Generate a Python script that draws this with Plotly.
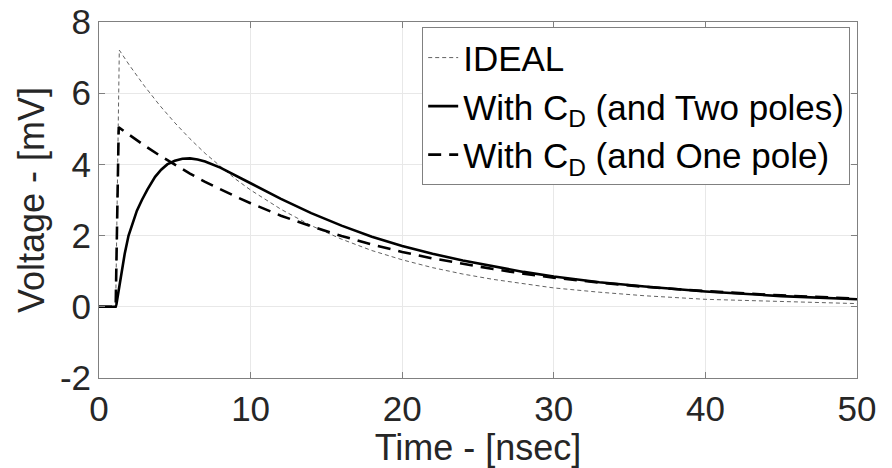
import plotly.graph_objects as go

# ---- data ----
t_ideal = [0, 1.0, 1.1, 1.34, 2, 3, 4, 5, 6, 7, 8, 9, 10, 12, 14, 16, 18, 20, 22, 24,
           26, 28, 30, 33, 36, 40, 45, 50]
v_ideal = [0, 0, 0, 7.21, 6.79, 6.20, 5.66, 5.17, 4.72, 4.31, 3.94, 3.59, 3.28, 2.74,
           2.28, 1.90, 1.58, 1.32, 1.10, 0.92, 0.77, 0.64, 0.53, 0.41, 0.31, 0.21, 0.14, 0.09]

t_two = [0, 1.0, 1.1, 1.15, 1.2, 1.3, 1.47, 1.7, 1.95, 2.2, 2.5, 2.83, 3.2, 3.7, 4.1,
         4.5, 5, 5.5, 6, 6.5, 7, 8, 9, 10, 12, 14, 16, 18, 20, 22, 24, 26, 28, 30,
         33, 36, 40, 45, 50]
v_two = [0, 0, 0, 0.07, 0.2, 0.5, 1.0, 1.5, 2.0, 2.35, 2.7, 3.0, 3.3, 3.65, 3.85,
         4.0, 4.1, 4.16, 4.17, 4.14, 4.08, 3.91, 3.70, 3.47, 3.03, 2.63,
         2.28, 1.97, 1.71, 1.49, 1.30, 1.13, 0.98, 0.85, 0.69, 0.57, 0.43, 0.30, 0.21]

t_one = [0, 1.0, 1.1, 1.3, 2, 3, 4, 5, 6, 7, 8, 9, 10, 12, 14, 16, 18, 20, 22, 24, 26,
         28, 30, 33, 36, 40, 45, 50]
v_one = [0, 0, 0, 5.04, 4.82, 4.53, 4.25, 3.99, 3.74, 3.51, 3.30, 3.10, 2.91, 2.56, 2.26,
         1.99, 1.75, 1.54, 1.36, 1.20, 1.06, 0.93, 0.82, 0.68, 0.56, 0.44, 0.32, 0.23]

x_ticks = [0, 10, 20, 30, 40, 50]
y_ticks = [-2, 0, 2, 4, 6, 8]

FONT = "Liberation Sans, Arial, sans-serif"

fig = go.Figure()
fig.add_trace(go.Scatter(x=t_ideal, y=v_ideal, mode="lines", name="IDEAL",
                         line=dict(color="#3a3a3a", width=0.8, dash="4px,3px")))
fig.add_trace(go.Scatter(x=t_two, y=v_two, mode="lines",
                         name="With C<sub>D</sub> (and Two poles)",
                         line=dict(color="black", width=2.6)))
fig.add_trace(go.Scatter(x=t_one, y=v_one, mode="lines",
                         name="With C<sub>D</sub> (and One pole)",
                         line=dict(color="black", width=2.6, dash="13px,8px")))

axis_common = dict(
    showline=True, linecolor="#808080", linewidth=1, mirror="ticks",
    ticks="inside", ticklen=6, tickcolor="#808080",
    showgrid=True, gridcolor="#e8e8e8", gridwidth=1,
    zeroline=False, automargin=False,
    tickfont=dict(family=FONT, size=35, color="#262626"),
)

fig.update_xaxes(range=[0, 50], tickvals=x_ticks, ticktext=[str(v) for v in x_ticks],
                 title=dict(text="Time - [nsec]", font=dict(family=FONT, size=36, color="#262626"),
                            standoff=2),
                 **axis_common)
fig.update_yaxes(range=[-2, 8], tickvals=y_ticks, ticktext=[str(v) for v in y_ticks],
                 title=dict(text="Voltage - [mV]", font=dict(family=FONT, size=36, color="#262626"),
                            standoff=4),
                 **axis_common)

fig.update_layout(
    width=892, height=468,
    margin=dict(l=99, r=35, t=22, b=90, autoexpand=False),
    paper_bgcolor="white", plot_bgcolor="white",
    showlegend=True,
    legend=dict(x=0.991, y=0.985, xanchor="right", yanchor="top",
                bgcolor="white", bordercolor="#808080", borderwidth=1,
                font=dict(family=FONT, size=35, color="black"),
                itemwidth=30, tracegroupgap=0),
)

fig.write_html("out.html")
